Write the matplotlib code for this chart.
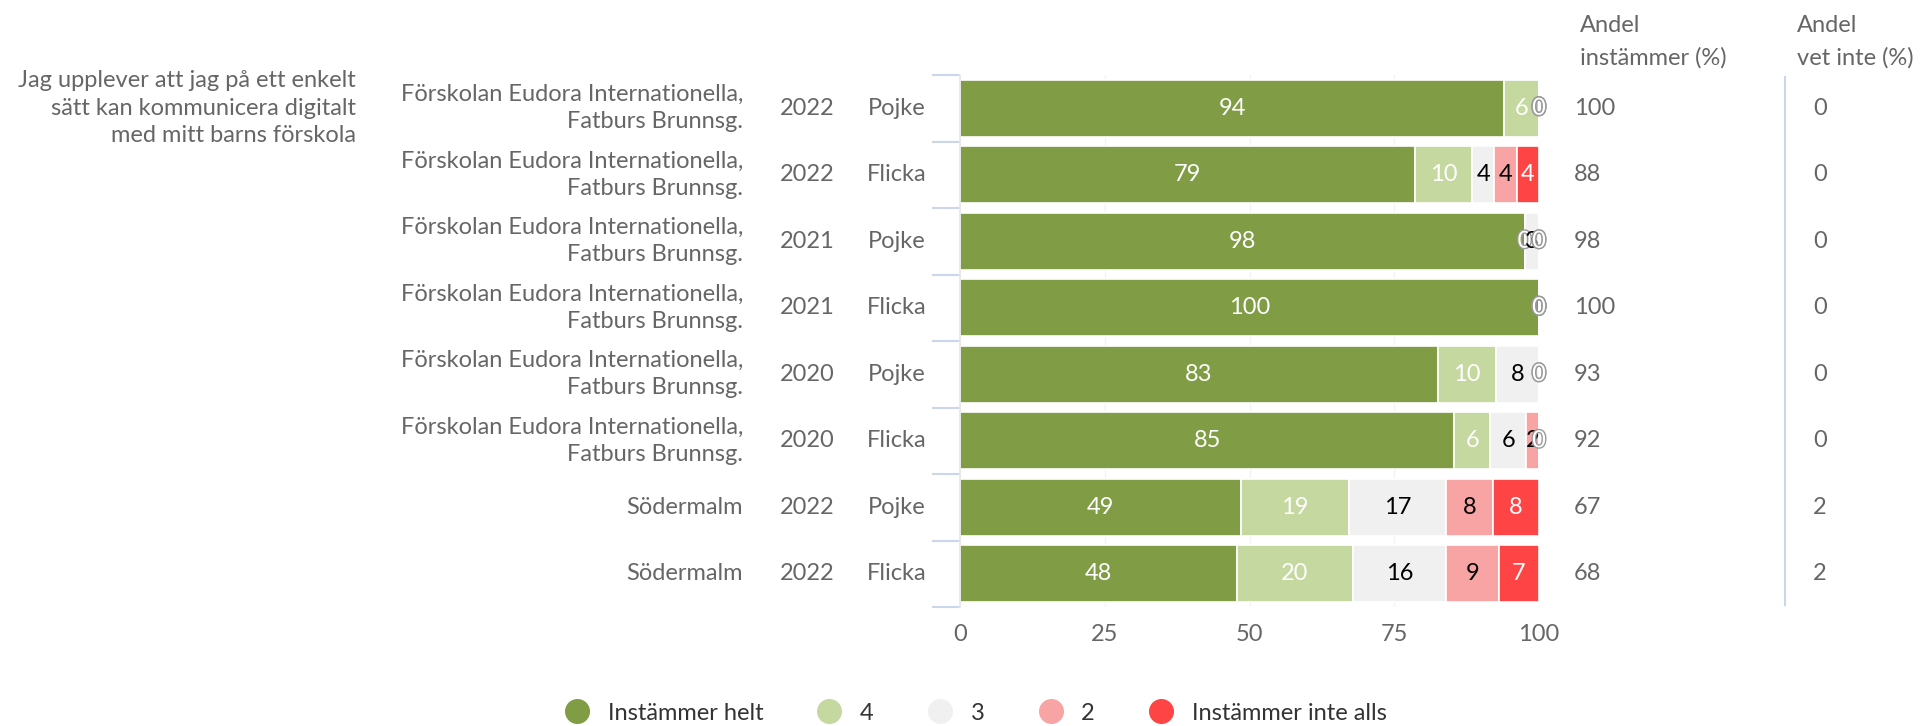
import matplotlib
matplotlib.use("Agg")
import matplotlib.pyplot as plt
import matplotlib.patheffects as pe
from matplotlib.lines import Line2D
import numpy as np

plt.rcParams['font.family'] = ['Lato', 'DejaVu Sans']

question = "Jag upplever att jag på ett enkelt\nsätt kan kommunicera digitalt\nmed mitt barns förskola"
units = ["Förskolan Eudora Internationella,\nFatburs Brunnsg."] * 6 + ["Södermalm", "Södermalm"]
years = ["2022", "2022", "2021", "2021", "2020", "2020", "2022", "2022"]
genders = ["Pojke", "Flicka", "Pojke", "Flicka", "Pojke", "Flicka", "Pojke", "Flicka"]

series_names = ["Instämmer helt", "4", "3", "2", "Instämmer inte alls"]
helt = [94.0, 78.6, 97.5, 100.0, 82.5, 85.4, 48.6, 47.9]
s4 = [6.0, 9.8, 0.0, 0.0, 10.0, 6.2, 18.6, 19.9]
s3 = [0.0, 3.9, 2.5, 0.0, 7.5, 6.2, 16.7, 16.2]
s2 = [0.0, 3.9, 0.0, 0.0, 0.0, 2.2, 8.2, 9.1]
inte = [0.0, 3.8, 0.0, 0.0, 0.0, 0.0, 7.9, 6.9]

andel_instammer = [100, 88, 98, 100, 93, 92, 67, 68]
andel_vet_inte = [0, 0, 0, 0, 0, 0, 2, 2]

colors = ["#809c45", "#c5d89f", "#f0f0f0", "#f9a4a4", "#fe4444"]
label_colors = ["white", "white", "black", "black", "white"]

W, H = 1927, 726
fig = plt.figure(figsize=(W / 100, H / 100), dpi=100)
ax_left, ax_right = 960 / W, 1539 / W
ax_top, ax_bot = 1 - 75 / H, 1 - 607 / H
ax = fig.add_axes([ax_left, ax_bot, ax_right - ax_left, ax_top - ax_bot])

n = len(years)
y = np.arange(n)
series = [helt, s4, s3, s2, inte]
left = np.zeros(n)
fs = 17
for vals, col, lc in zip(series, colors, label_colors):
    vals = np.array(vals)
    ax.barh(y, vals, left=left, height=0.86, color=col, edgecolor="white", linewidth=1.2, zorder=2)
    for i in range(n):
        cx = left[i] + vals[i] / 2
        txt = f"{int(np.floor(vals[i] + 0.5))}"
        if vals[i] == 0:
            ax.text(cx, y[i], txt, ha="center", va="center", fontsize=fs, color="white", zorder=4,
                    path_effects=[pe.withStroke(linewidth=2, foreground="#999999")])
        else:
            ax.text(cx, y[i], txt, ha="center", va="center", fontsize=fs, color=lc, zorder=4)
    left = left + vals

ax.set_xlim(0, 100)
ax.set_ylim(n - 0.5, -0.5)
ax.set_xticks([0, 25, 50, 75, 100])
ax.tick_params(axis="x", length=0, labelsize=fs, labelcolor="#666666", pad=12)
ax.set_yticks(np.arange(n + 1) - 0.5)
ax.set_yticklabels([])
ax.tick_params(axis="y", length=20, width=1.5, color="#ccd6eb")
ax.grid(axis="x", color="#f3f3f3", linewidth=1, zorder=0)
ax.set_axisbelow(True)
for s in ["top", "right", "bottom"]:
    ax.spines[s].set_visible(False)
ax.spines["left"].set_color("#e6e6e6")
ax.spines["left"].set_linewidth(1.2)

trans = ax.get_yaxis_transform()
def ax_x(px):
    return (px - 960) / (1539 - 960)

txtc = "#666666"
ax.text(ax_x(356), 0, question, transform=trans, ha="right", va="center", fontsize=fs,
        color=txtc, linespacing=1.37, clip_on=False)
for i in range(n):
    ax.text(ax_x(743), y[i], units[i], transform=trans, ha="right", va="center", fontsize=fs,
            color=txtc, linespacing=1.37, clip_on=False)
    ax.text(ax_x(807), y[i], years[i], transform=trans, ha="center", va="center", fontsize=fs,
            color=txtc, clip_on=False)
    ax.text(ax_x(897), y[i], genders[i], transform=trans, ha="center", va="center", fontsize=fs,
            color=txtc, clip_on=False)
    ax.text(ax_x(1574), y[i], f"{andel_instammer[i]}", transform=trans, ha="left", va="center",
            fontsize=fs, color=txtc, clip_on=False)
    ax.text(ax_x(1813), y[i], f"{andel_vet_inte[i]}", transform=trans, ha="left", va="center",
            fontsize=fs, color=txtc, clip_on=False)

# headers
fig.text(1580 / W, 1 - 25 / H, "Andel", ha="left", va="center", fontsize=fs, color=txtc)
fig.text(1580 / W, 1 - 58 / H, "instämmer (%)", ha="left", va="center", fontsize=fs, color=txtc)
fig.text(1797 / W, 1 - 25 / H, "Andel", ha="left", va="center", fontsize=fs, color=txtc)
fig.text(1797 / W, 1 - 58 / H, "vet inte (%)", ha="left", va="center", fontsize=fs, color=txtc)

# separator
fig.add_artist(Line2D([1785 / W, 1785 / W], [1 - 77 / H, 1 - 605 / H], color="#ccd6eb", linewidth=1.5))

handles = [Line2D([0], [0], marker="o", linestyle="none", markersize=17, markerfacecolor=c,
                  markeredgecolor=c) for c in colors]
fig.legend(handles, series_names, loc="center", bbox_to_anchor=(970 / W, 1 - 713 / H), ncol=5,
           frameon=False, fontsize=fs, handletextpad=0.3, columnspacing=1.8, labelcolor="#333333")

fig.savefig("out.png", dpi=100)
